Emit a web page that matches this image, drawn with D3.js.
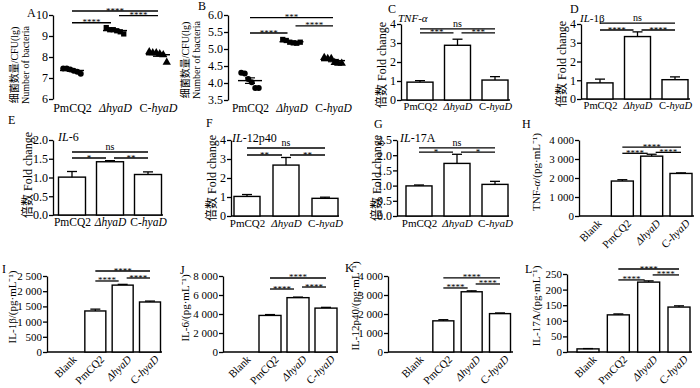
<!DOCTYPE html>
<html>
<head>
<meta charset="utf-8">
<script src="https://cdn.jsdelivr.net/npm/d3@7"></script>
<style>
  body { margin: 0; background: #fff; }
  text { font-family: "Liberation Serif", "Noto Sans CJK SC", serif; fill: #000; }
</style>
</head>
<body>
<div id="fig"></div>
<script>
// groups
const groups3 = ["PmCQ2", "ΔhyaD", "C-hyaD"];
const groups4 = ["Blank", "PmCQ2", "ΔhyaD", "C-hyaD"];

// A / B: bacteria counts, lg CFU, one value per animal
const aPmCQ2 = [7.45, 7.45, 7.4, 7.35, 7.3, 7.2];
const aHyaD = [9.4, 9.3, 9.3, 9.25, 9.2, 9.1];
const aCHyaD = [8.25, 8.2, 8.2, 8.15, 8.1, 7.75];
const aTicks = [6, 7, 8, 9, 10];

const bPmCQ2 = [4.3, 4.28, 4.12, 4.02, 3.85, 3.85];
const bHyaD = [5.28, 5.25, 5.2, 5.18, 5.17, 5.2];
const bCHyaD = [4.75, 4.72, 4.72, 4.6, 4.58, 4.58];
const bTicks = [3.5, 4.0, 4.5, 5.0, 5.5, 6.0];

// C-G: fold change (mean, sem)
const cMean = [0.94, 2.88, 1.05], cSem = [0.08, 0.32, 0.18];
const dMean = [0.86, 3.33, 1.03], dSem = [0.2, 0.25, 0.15];
const eMean = [1.01, 1.42, 1.08], eSem = [0.15, 0.03, 0.07];
const fMean = [1.03, 2.68, 0.93], fSem = [0.1, 0.4, 0.06];
const gMean = [0.99, 1.73, 1.04], gSem = [0.03, 0.3, 0.1];
const fcTicks4 = [0, 1, 2, 3, 4];
const eTicks = [0, 0.5, 1.0, 1.5, 2.0];
const gTicks = [0, 0.5, 1.0, 1.5, 2.0, 2.5];

// H-L: ELISA pg/mL (mean, sem)
const hMean = [0, 1840, 3150, 2240], hSem = [0, 70, 100, 30];
const iMean = [0, 1350, 2200, 1645], iSem = [0, 60, 25, 30];
const jMean = [0, 3850, 5720, 4620], jSem = [0, 90, 60, 80];
const kMean = [0, 1640, 3170, 2020], kSem = [0, 60, 50, 35];
const lMean = [10, 119, 224, 144], lSem = [1, 3, 4, 4];
const hTicks = [0, 1000, 2000, 3000, 4000];
const iTicks = [0, 500, 1000, 1500, 2000, 2500];
const jTicks = [0, 2000, 4000, 6000, 8000];
const kTicks = [0, 1000, 2000, 3000, 4000];
const lTicks = [0, 50, 100, 150, 200, 250];

// significance: [label, from, to, level]
const aSig = [["****", 0, 2, 10.19], ["****", 1, 2, 9.97], ["****", 0, 1, 9.63]];
const bSig = [["***", 0, 2, 5.92], ["****", 1, 2, 5.68], ["****", 0, 1, 5.47]];
const cSig = [["ns", 0, 2, 3.74], ["***", 0, 1, 3.53], ["***", 1, 2, 3.53]];
const dSig = [["ns", 0, 2, 4.05], ["****", 0, 1, 3.68], ["****", 1, 2, 3.68]];
const eSig = [["ns", 0, 2, 1.68], ["*", 0, 1, 1.52], ["**", 1, 2, 1.52]];
const fSig = [["ns", 0, 2, 3.58], ["**", 0, 1, 3.21], ["**", 1, 2, 3.21]];
const gSig = [["ns", 0, 2, 2.24], ["*", 0, 1, 2.1], ["*", 1, 2, 2.1]];
const hSig = [["****", 1, 3, 3630], ["****", 2, 3, 3350], ["****", 1, 2, 3300]];
const iSig = [["****", 1, 3, 2664], ["****", 2, 3, 2434], ["****", 1, 2, 2336]];
const jSig = [["****", 1, 3, 7790], ["****", 2, 3, 6840], ["****", 1, 2, 6630]];
const kSig = [["****", 1, 3, 3900], ["****", 2, 3, 3580], ["****", 1, 2, 3370]];
const lSig = [["****", 1, 3, 266], ["****", 2, 3, 247], ["****", 1, 2, 231]];

// "_" toggles italic
const groupMarkup = { "PmCQ2": "PmCQ2", "ΔhyaD": "_ΔhyaD_", "C-hyaD": "C-_hyaD_", "Blank": "Blank" };
const fcTitle = "倍数  Fold change";

const svg = d3.select("#fig").append("svg").attr("width", 700).attr("height", 388);

function rich(sel, str) {
  str.split("_").forEach((s, i) => {
    if (!s) return;
    const t = sel.append("tspan").text(s);
    if (i % 2) t.attr("font-style", "italic");
  });
  return sel;
}

const f1 = d3.format(".1f");
const fThousand = d => d3.format(",")(d).replace(/,/g, " ");

function drawPanel(p) {
  const g = svg.append("g");
  const y = d3.scaleLinear().domain([p.ticks[0], p.ticks[p.ticks.length - 1]]).range([p.yBot, p.yTop]);
  const x = d3.scalePoint().domain(p.groups).range(p.centers);
  const mid = p.groups.indexOf("ΔhyaD");

  // y axis
  const ay = g.append("g").attr("transform", `translate(${p.axisX},0)`)
    .call(d3.axisLeft(y).tickValues(p.ticks).tickFormat(p.fmt || (d => d)).tickSize(4).tickSizeOuter(0));
  ay.attr("font-family", null).attr("font-size", p.tickFont || 12);
  ay.selectAll("path, line").attr("stroke-width", 1.3);
  ay.selectAll(".tick text").attr("x", -5);

  // x axis
  const ax = g.append("g").attr("transform", `translate(0,${p.yBot})`)
    .call(d3.axisBottom(x).tickSize(0).tickSizeOuter(0));
  ax.attr("font-family", null).attr("font-size", p.labelFont || 12);
  if (p.xEnd) ax.select(".domain").attr("d", `M${p.axisX},0H${p.xEnd}`).attr("stroke-width", 1.3);
  else ax.select(".domain").remove();
  ax.selectAll(".tick text").each(function (d) {
    const t = d3.select(this).text("");
    rich(t, groupMarkup[d]);
    if (p.rotate) {
      t.attr("text-anchor", "end").attr("x", 0).attr("y", 0).attr("dy", null)
        .attr("transform", "translate(9,8) rotate(-45)");
    } else {
      t.attr("y", p.labelDy || 3).attr("dy", "0.71em");
    }
  });

  // marks
  if (p.points) {
    const shapes = [d3.symbolCircle, d3.symbolSquare, d3.symbolTriangle];
    p.points.forEach((vals, gi) => {
      const cx = x(p.groups[gi]);
      const n = vals.length;
      vals.forEach((v, i) => {
        g.append("path")
          .attr("d", d3.symbol().type(shapes[gi]).size(gi === 2 ? 30 : 28)())
          .attr("transform", `translate(${cx + (i - (n - 1) / 2) * 3.5},${y(v)})`)
          .attr("fill", "#000");
      });
      const m = d3.mean(vals);
      const sem = d3.deviation(vals) / Math.sqrt(n);
      g.append("line").attr("x1", cx - 12).attr("x2", cx + 12).attr("y1", y(m)).attr("y2", y(m))
        .attr("stroke", "#000").attr("stroke-width", 1.4);
      g.append("line").attr("x1", cx).attr("x2", cx).attr("y1", y(m - sem)).attr("y2", y(m + sem))
        .attr("stroke", "#000").attr("stroke-width", 1.2);
      [m - sem, m + sem].forEach(v => g.append("line").attr("x1", cx - 5).attr("x2", cx + 5)
        .attr("y1", y(v)).attr("y2", y(v)).attr("stroke", "#000").attr("stroke-width", 1.2));
    });
  } else {
    p.groups.forEach((grp, gi) => {
      const cx = x(grp), m = p.mean[gi], e = p.sem[gi];
      if (m > 0) {
        g.append("rect").attr("x", cx - p.barW / 2).attr("y", y(m))
          .attr("width", p.barW).attr("height", y(0) - y(m))
          .attr("fill", "#fff").attr("stroke", "#000").attr("stroke-width", 1.4);
      }
      if (e > 0) {
        g.append("line").attr("x1", cx).attr("x2", cx).attr("y1", y(m)).attr("y2", y(m + e))
          .attr("stroke", "#000").attr("stroke-width", 1.3);
        g.append("line").attr("x1", cx - 5).attr("x2", cx + 5).attr("y1", y(m + e)).attr("y2", y(m + e))
          .attr("stroke", "#000").attr("stroke-width", 1.3);
      }
    });
  }

  // significance brackets
  p.sig.forEach(([lab, a, b, lv]) => {
    let x1 = x(p.groups[a]), x2 = x(p.groups[b]);
    if (b - a === 1) {
      if (b === mid) x2 -= 4;
      if (a === mid) x1 += 4;
    }
    g.append("line").attr("x1", x1).attr("x2", x2).attr("y1", y(lv)).attr("y2", y(lv))
      .attr("stroke", "#000").attr("stroke-width", 1.3);
    g.append("text").attr("x", (x1 + x2) / 2).attr("y", lab === "ns" ? y(lv) - 2 : y(lv) + 2.5)
      .attr("text-anchor", "middle").attr("font-size", lab === "ns" ? 10 : 9).text(lab);
  });

  // axis title(s)
  p.titles.forEach(([str, tx]) => {
    const t = g.append("text").attr("transform", `translate(${tx},${p.titleY}) rotate(-90)`)
      .attr("text-anchor", "middle").attr("font-size", p.titleSize || 12);
    rich(t, str);
  });

  // gene label
  if (p.gene) rich(g.append("text").attr("x", p.gene[1]).attr("y", p.gene[2]).attr("font-size", p.geneFont || 12), p.gene[0]);

  // panel letter
  g.append("text").attr("x", p.letter[1]).attr("y", p.letter[2]).attr("font-size", 12).text(p.letter[0]);
}

// scatter panels
drawPanel({ groups: groups3, points: [aPmCQ2, aHyaD, aCHyaD], ticks: aTicks, sig: aSig,
  axisX: 53, yTop: 15, yBot: 99, centers: [72, 158], labelDy: 4, labelFont: 12,
  titles: [["细菌数量/CFU(lg)", 18], ["Number of bacteria", 29]], titleY: 65, titleSize: 10,
  letter: ["A", 27, 17] });
drawPanel({ groups: groups3, points: [bPmCQ2, bHyaD, bCHyaD], ticks: bTicks, fmt: f1, sig: bSig,
  axisX: 228, yTop: 15, yBot: 100, centers: [250, 333], labelDy: 4, labelFont: 11.5,
  titles: [["细菌数量/CFU(lg)", 189], ["Number of bacteria", 200]], titleY: 60, titleSize: 10,
  letter: ["B", 198, 10] });

// fold change panels
drawPanel({ groups: groups3, mean: cMean, sem: cSem, ticks: fcTicks4, sig: cSig,
  axisX: 401, yTop: 24, yBot: 100, centers: [420, 495], barW: 26, xEnd: 510, labelFont: 10.5,
  titles: [[fcTitle, 386]], titleY: 65, gene: ["_TNF-α_", 398, 22], geneFont: 11, letter: ["C", 388, 13] });
drawPanel({ groups: groups3, mean: dMean, sem: dSem, ticks: fcTicks4, sig: dSig,
  axisX: 581, yTop: 24, yBot: 99, centers: [600, 675], barW: 26, xEnd: 690, labelFont: 10.5,
  titles: [[fcTitle, 566]], titleY: 64, gene: ["_IL_-1β", 580, 22], geneFont: 11, letter: ["D", 570, 13] });
drawPanel({ groups: groups3, mean: eMean, sem: eSem, ticks: eTicks, fmt: f1, sig: eSig,
  axisX: 53, yTop: 140, yBot: 215, centers: [72, 148], barW: 27, xEnd: 163, labelFont: 11.5,
  titles: [[fcTitle, 32]], titleY: 175, gene: ["_IL_-6", 58, 141], letter: ["E", 8, 124] });
drawPanel({ groups: groups3, mean: fMean, sem: fSem, ticks: fcTicks4, sig: fSig,
  axisX: 231, yTop: 140, yBot: 216, centers: [247, 325], barW: 26, xEnd: 339, labelFont: 11,
  titles: [[fcTitle, 216]], titleY: 178, gene: ["_IL_-12p40", 232, 142], letter: ["F", 206, 127] });
drawPanel({ groups: groups3, mean: gMean, sem: gSem, ticks: gTicks, fmt: f1, sig: gSig,
  axisX: 397, yTop: 140, yBot: 216, centers: [419, 495], barW: 26, xEnd: 509, labelFont: 11,
  titles: [[fcTitle, 381]], titleY: 178, gene: ["_IL_-17A", 400, 142], letter: ["G", 374, 128] });

// ELISA panels
const elisa = { rotate: true, labelFont: 11, tickFont: 11, titleSize: 11 };
drawPanel({ ...elisa, groups: groups4, mean: hMean, sem: hSem, ticks: hTicks, fmt: fThousand, sig: hSig,
  axisX: 579, yTop: 140, yBot: 216, centers: [593, 681], barW: 22, xEnd: 694,
  titles: [["TNF-_α_/(pg·mL⁻¹)", 540]], titleY: 172, letter: ["H", 522, 128] });
drawPanel({ ...elisa, groups: groups4, mean: iMean, sem: iSem, ticks: iTicks, fmt: fThousand, sig: iSig,
  axisX: 47, yTop: 276, yBot: 352, centers: [68, 150], barW: 21, xEnd: 162,
  titles: [["IL-1β/(pg·mL⁻¹)", 16]], titleY: 307, letter: ["I", 2, 273] });
drawPanel({ ...elisa, groups: groups4, mean: jMean, sem: jSem, ticks: jTicks, fmt: fThousand, sig: jSig,
  axisX: 223, yTop: 276, yBot: 352, centers: [242, 326], barW: 22, xEnd: 338,
  titles: [["IL-6/(pg·mL⁻¹)", 189]], titleY: 308, letter: ["J", 180, 274] });
drawPanel({ ...elisa, groups: groups4, mean: kMean, sem: kSem, ticks: kTicks, fmt: fThousand, sig: kSig,
  axisX: 388, yTop: 276, yBot: 352, centers: [415, 500], barW: 21, xEnd: 513,
  titles: [["IL-12p40/(pg·mL⁻¹)", 359]], titleY: 306, letter: ["K", 345, 272] });
drawPanel({ ...elisa, groups: groups4, mean: lMean, sem: lSem, ticks: lTicks, sig: lSig,
  axisX: 567, yTop: 274, yBot: 352, centers: [588, 679], barW: 22, xEnd: 692,
  titles: [["IL-17A/(pg·mL⁻¹)", 540]], titleY: 306, letter: ["L", 525, 273] });
</script>
</body>
</html>
